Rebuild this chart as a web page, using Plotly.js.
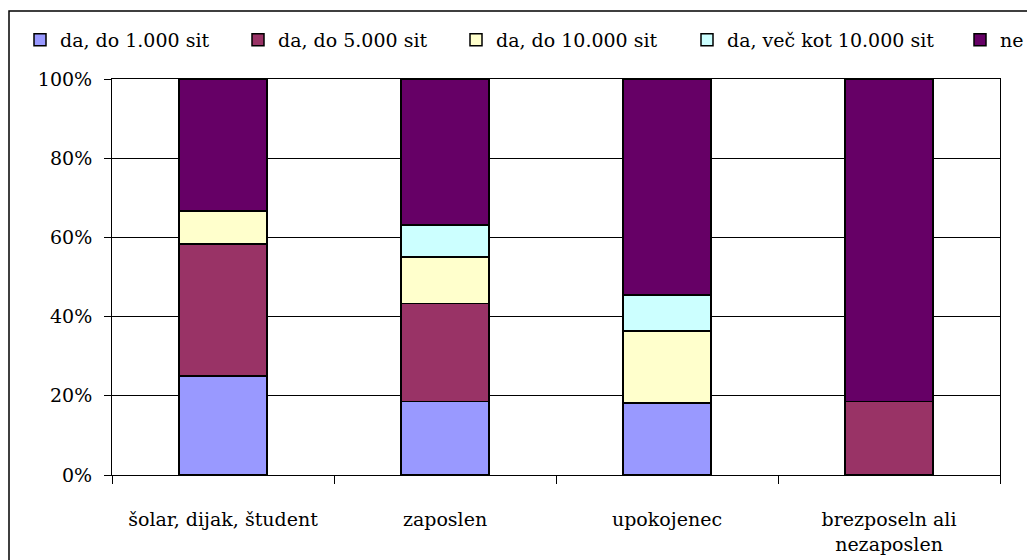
<!DOCTYPE html>
<html>
<head>
<meta charset="utf-8">
<script src="https://cdn.plot.ly/plotly-3.0.1.min.js"></script>
<style>html,body{margin:0;padding:0;background:#fff;}#chart{width:1027px;height:560px;}</style>
</head>
<body>
<div id="chart"></div>
<script>
const categories = ['šolar, dijak, študent', 'zaposlen', 'upokojenec', 'brezposeln ali<br>nezaposlen'];
const seriesNames = ['da, do 1.000 sit', 'da, do 5.000 sit', 'da, do 10.000 sit', 'da, več kot 10.000 sit', 'ne'];
const do1000 = [25.0, 18.6, 18.2, 0];
const do5000 = [33.3, 24.7, 0, 18.5];
const do10000 = [8.4, 11.7, 18.2, 0];
const vec10000 = [0, 8.1, 9.1, 0];
const ne = [33.3, 36.9, 54.5, 81.5];
const yTicks = [0, 20, 40, 60, 80, 100];

const values = [do1000, do5000, do10000, vec10000, ne];
const colors = ['#9999FF', '#993366', '#FFFFCC', '#CCFFFF', '#660066'];
const legendIds = ['legend', 'legend2', 'legend3', 'legend4', 'legend5'];
const legendX = [20, 238, 456, 687, 960];

const font = {family: 'DejaVu Serif, serif', size: 19, color: '#000'};

const traces = values.map((v, i) => ({
  type: 'bar',
  name: seriesNames[i],
  x: categories,
  y: v,
  legend: legendIds[i],
  showlegend: true,
  marker: {color: colors[i], line: {color: '#000', width: 1.5}},
  hoverinfo: 'skip'
}));

const layout = {
  width: 1027, height: 560,
  margin: {l: 112, r: 27, t: 79, b: 85, autoexpand: false},
  paper_bgcolor: '#fff', plot_bgcolor: '#fff',
  font: font,
  showlegend: true,
  barmode: 'stack',
  barnorm: 'percent',
  bargap: 0.604,
  xaxis: {
    type: 'category',
    showline: true, mirror: true, linecolor: '#000', linewidth: 1,
    ticks: 'outside', tickson: 'boundaries', ticklen: 8, tickcolor: '#000', tickwidth: 1,
    showgrid: false, zeroline: false,
    tickangle: 0,
    ticklabelstandoff: 27,
    tickfont: font
  },
  yaxis: {
    range: [0, 100],
    tickvals: yTicks,
    ticktext: yTicks.map(t => t + '%'),
    showline: true, mirror: true, linecolor: '#000', linewidth: 1,
    ticks: 'outside', ticklen: 7, tickcolor: '#000', tickwidth: 1,
    showgrid: true, gridcolor: '#000', gridwidth: 1,
    zeroline: false,
    ticklabelstandoff: 8,
    tickfont: font
  },
  shapes: [{
    type: 'rect', xref: 'paper', yref: 'paper',
    x0: (9 - 112) / 888, x1: (1045 - 112) / 888,
    y0: (475 - 575) / 396, y1: (475 - 11) / 396,
    line: {color: '#000', width: 1.5}, fillcolor: 'rgba(0,0,0,0)', layer: 'below'
  }]
};

legendIds.forEach((id, i) => {
  layout[id] = {
    visible: true,
    xref: 'container', yref: 'container',
    x: legendX[i] / 1027, xanchor: 'left',
    y: 1 - 40 / 560, yanchor: 'middle',
    orientation: 'h',
    bgcolor: 'rgba(0,0,0,0)', borderwidth: 0,
    font: font,
    itemwidth: 30
  };
});

Plotly.newPlot('chart', traces, layout, {displayModeBar: false, staticPlot: true});
</script>
</body>
</html>
